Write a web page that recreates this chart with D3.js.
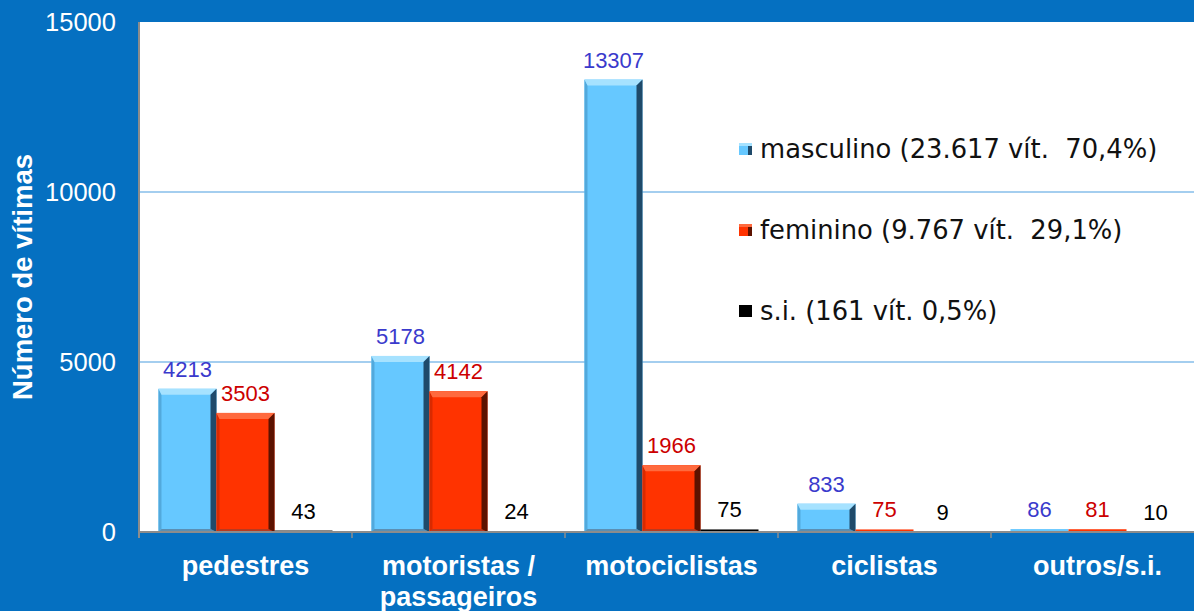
<!DOCTYPE html>
<html>
<head>
<meta charset="utf-8">
<script src="https://cdn.jsdelivr.net/npm/d3@7"></script>
<style>
  html, body { margin: 0; padding: 0; background: #0570c1; }
  svg { display: block; }
  .tick-y { font-family: Arial, "Liberation Sans", sans-serif; font-size: 25.5px; fill: #fff; }
  .cat { font-family: Arial, "Liberation Sans", sans-serif; font-size: 27px; font-weight: bold; fill: #fff; }
  .val { font-family: Arial, "Liberation Sans", sans-serif; font-size: 22px; }
  .leg { font-family: "DejaVu Sans", Verdana, sans-serif; font-size: 25.8px; fill: #111; white-space: pre; }
</style>
</head>
<body>
<script>
// Victims by type of road user, split by sex
const categories = ["pedestres", "motoristas / passageiros", "motociclistas", "ciclistas", "outros/s.i."];
const categoryLines = [["pedestres"], ["motoristas /", "passageiros"], ["motociclistas"], ["ciclistas"], ["outros/s.i."]];
const seriesNames = ["masculino", "feminino", "s.i."];
const legendLabels = ["masculino (23.617 vít.  70,4%)", "feminino (9.767 vít.  29,1%)", "s.i. (161 vít. 0,5%)"];
const masculino = [4213, 5178, 13307, 833, 86];
const feminino = [3503, 4142, 1966, 75, 81];
const semInfo = [43, 24, 75, 9, 10];
const yTicks = [0, 5000, 10000, 15000];

const W = 1194, H = 611;
const plot = { left: 139, right: 1204, top: 22, bottom: 532 };

const palette = {
  "masculino": { main: "#66c8ff", light: "#a6e2ff", dark: "#1f4a6a", side: "#52a9dc", bottom: "#5b8fb3", label: "#3a3acc" },
  "feminino":  { main: "#ff3300", light: "#ff6a3e", dark: "#5c1200", side: "#d92a00", bottom: "#b83a20", label: "#cc0000" },
  "s.i.":      { main: "#000000", light: "#222", dark: "#000", side: "#000", bottom: "#000", label: "#000000" }
};

const seriesValues = { "masculino": masculino, "feminino": feminino, "s.i.": semInfo };

const svg = d3.select("body").append("svg").attr("width", W).attr("height", H);

// background and plotting area
svg.append("rect").attr("width", W).attr("height", H).attr("fill", "#0570c1");
svg.append("rect")
  .attr("x", plot.left).attr("y", plot.top)
  .attr("width", plot.right - plot.left).attr("height", plot.bottom - plot.top)
  .attr("fill", "#ffffff");

const x0 = d3.scaleBand().domain(categories).range([plot.left, plot.right]).padding(0);
const x1 = d3.scaleBand().domain(seriesNames).range([0, x0.bandwidth()]).paddingInner(0).paddingOuter(0.336);
const y = d3.scaleLinear().domain([0, 15000]).range([plot.bottom, plot.top]);

// gridlines
svg.append("g").selectAll("line")
  .data(yTicks.filter(t => t > 0 && t < 15000))
  .join("line")
  .attr("x1", plot.left).attr("x2", plot.right)
  .attr("y1", d => y(d)).attr("y2", d => y(d))
  .attr("stroke", "#4a9ee0").attr("stroke-width", 1.2);

// y tick labels
const yAxis = d3.axisLeft(y).tickValues(yTicks).tickSize(0).tickPadding(0).tickFormat(d3.format("d"));
const gy = svg.append("g").attr("transform", `translate(${plot.left - 23},0)`).call(yAxis);
gy.select(".domain").remove();
gy.selectAll("text").attr("class", "tick-y").attr("font-size", null).attr("font-family", null).attr("fill", null).attr("dy", "0.35em");

// y axis title
svg.append("text")
  .attr("transform", `translate(32,277) rotate(-90)`)
  .attr("text-anchor", "middle")
  .attr("font-family", "Arial, 'Liberation Sans', sans-serif")
  .attr("font-size", 27.5).attr("font-weight", "bold").attr("fill", "#fff")
  .text("Número de vítimas");

// bars with bevelled edges
const flat = [];
categories.forEach((c, i) => {
  seriesNames.forEach(s => flat.push({ cat: c, series: s, value: seriesValues[s][i] }));
});

const bars = svg.append("g").selectAll("g").data(flat).join("g");

bars.each(function (d) {
  const g = d3.select(this);
  const p = palette[d.series];
  const bx = x0(d.cat) + x1(d.series);
  const bw = x1.bandwidth();
  const by = y(d.value);
  const bh = y(0) - by;
  g.append("rect").attr("x", bx).attr("y", by).attr("width", bw).attr("height", Math.max(bh, 1)).attr("fill", p.main);
  if (d.series === "s.i." || bh < 8) return;
  const b = Math.min(6, bh / 2);
  // left edge
  g.append("polygon").attr("points", [[bx, by], [bx + 3, by + b], [bx + 3, by + bh - 3], [bx, by + bh]].join(" ")).attr("fill", p.side);
  // bottom edge
  g.append("polygon").attr("points", [[bx, by + bh], [bx + 3, by + bh - 3], [bx + bw - b, by + bh - 3], [bx + bw, by + bh]].join(" ")).attr("fill", p.bottom);
  // top highlight
  g.append("polygon").attr("points", [[bx, by], [bx + bw, by], [bx + bw - b, by + b], [bx + 3, by + b]].join(" ")).attr("fill", p.light);
  // right shaded edge
  g.append("polygon").attr("points", [[bx + bw, by], [bx + bw, by + bh], [bx + bw - b, by + bh - 3], [bx + bw - b, by + b]].join(" ")).attr("fill", p.dark);
});

// value labels
svg.append("g").selectAll("text").data(flat).join("text")
  .attr("class", "val")
  .attr("x", d => x0(d.cat) + x1(d.series) + x1.bandwidth() / 2)
  .attr("y", d => y(d.value) - 12)
  .attr("text-anchor", "middle")
  .attr("fill", d => palette[d.series].label)
  .text(d => d.value);

// axis lines
svg.append("line").attr("x1", plot.left).attr("x2", plot.left).attr("y1", plot.top).attr("y2", plot.bottom + 6)
  .attr("stroke", "#8c8c8c").attr("stroke-width", 2);
svg.append("line").attr("x1", plot.left).attr("x2", plot.right).attr("y1", plot.bottom).attr("y2", plot.bottom)
  .attr("stroke", "#8c8c8c").attr("stroke-width", 2);
svg.append("g").selectAll("line").data(categories).join("line")
  .attr("x1", d => x0(d)).attr("x2", d => x0(d))
  .attr("y1", plot.bottom).attr("y2", plot.bottom + 6)
  .attr("stroke", "#8c8c8c").attr("stroke-width", 1.5);

// category labels
const catText = svg.append("g").selectAll("text").data(categories).join("text")
  .attr("class", "cat")
  .attr("text-anchor", "middle")
  .attr("x", d => x0(d) + x0.bandwidth() / 2)
  .attr("y", 575);
catText.each(function (d, i) {
  d3.select(this).selectAll("tspan").data(categoryLines[i]).join("tspan")
    .attr("x", x0(d) + x0.bandwidth() / 2)
    .attr("dy", (t, j) => j === 0 ? 0 : 31)
    .text(t => t);
});

// legend
const legend = svg.append("g").attr("transform", "translate(739,0)");
const legRows = legend.selectAll("g").data(seriesNames).join("g")
  .attr("transform", (d, i) => `translate(0,${158 + i * 81})`);
legRows.append("rect").attr("x", 0).attr("y", -15).attr("width", 13).attr("height", 12)
  .attr("fill", d => palette[d].main);
legRows.filter(d => d !== "s.i.").append("rect").attr("x", 9).attr("y", -15).attr("width", 4).attr("height", 12)
  .attr("fill", d => palette[d].dark);
legRows.filter(d => d !== "s.i.").append("rect").attr("x", 0).attr("y", -15).attr("width", 13).attr("height", 3)
  .attr("fill", d => palette[d].light);
legRows.append("text").attr("class", "leg").attr("x", 21).attr("y", 0)
  .text((d, i) => legendLabels[i]);
</script>
</body>
</html>
